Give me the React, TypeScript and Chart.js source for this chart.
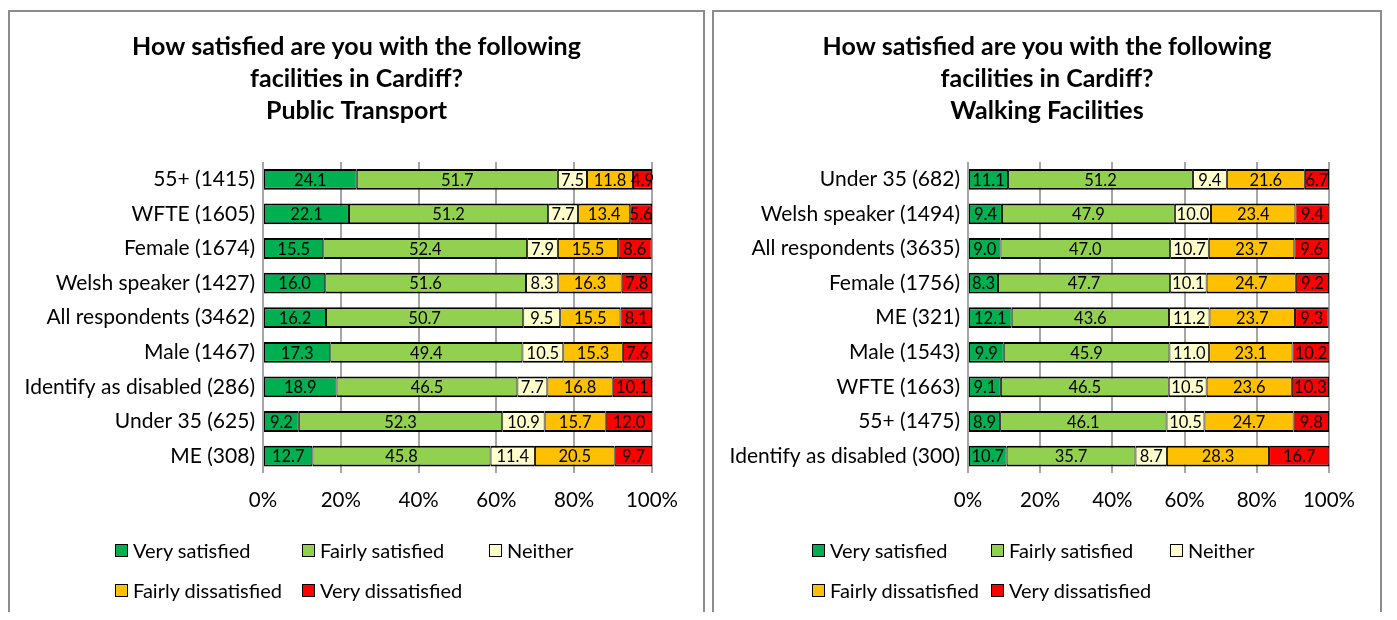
import React, { useEffect, useRef } from "react";
import { Chart, registerables } from "chart.js";

Chart.register(...registerables);

const FONT = "Lato, 'Noto Sans', sans-serif";

const seriesNames = ["Very satisfied", "Fairly satisfied", "Neither", "Fairly dissatisfied", "Very dissatisfied"];
const seriesColors = ["#00B050", "#92D050", "#FFFFCC", "#FFC000", "#FF0000"];
const xTickValues = [0, 20, 40, 60, 80, 100];

// Public Transport
const ptTitle = ["How satisfied are you with the following", "facilities in Cardiff?", "Public Transport"];
const ptCategories = ["55+ (1415)", "WFTE (1605)", "Female (1674)", "Welsh speaker (1427)", "All respondents (3462)", "Male (1467)", "Identify as disabled (286)", "Under 35 (625)", "ME (308)"];
const ptVerySatisfied = [24.1, 22.1, 15.5, 16.0, 16.2, 17.3, 18.9, 9.2, 12.7];
const ptFairlySatisfied = [51.7, 51.2, 52.4, 51.6, 50.7, 49.4, 46.5, 52.3, 45.8];
const ptNeither = [7.5, 7.7, 7.9, 8.3, 9.5, 10.5, 7.7, 10.9, 11.4];
const ptFairlyDissatisfied = [11.8, 13.4, 15.5, 16.3, 15.5, 15.3, 16.8, 15.7, 20.5];
const ptVeryDissatisfied = [4.9, 5.6, 8.6, 7.8, 8.1, 7.6, 10.1, 12.0, 9.7];

// Walking Facilities
const wfTitle = ["How satisfied are you with the following", "facilities in Cardiff?", "Walking Facilities"];
const wfCategories = ["Under 35 (682)", "Welsh speaker (1494)", "All respondents (3635)", "Female (1756)", "ME (321)", "Male (1543)", "WFTE (1663)", "55+ (1475)", "Identify as disabled (300)"];
const wfVerySatisfied = [11.1, 9.4, 9.0, 8.3, 12.1, 9.9, 9.1, 8.9, 10.7];
const wfFairlySatisfied = [51.2, 47.9, 47.0, 47.7, 43.6, 45.9, 46.5, 46.1, 35.7];
const wfNeither = [9.4, 10.0, 10.7, 10.1, 11.2, 11.0, 10.5, 10.5, 8.7];
const wfFairlyDissatisfied = [21.6, 23.4, 23.7, 24.7, 23.7, 23.1, 23.6, 24.7, 28.3];
const wfVeryDissatisfied = [6.7, 9.4, 9.6, 9.2, 9.3, 10.2, 10.3, 9.8, 16.7];

const valueLabels = {
  id: "valueLabels",
  afterDatasetsDraw(chart: any) {
    const { ctx, chartArea } = chart;
    ctx.save();
    ctx.beginPath();
    ctx.rect(chartArea.left, chartArea.top, chartArea.right - chartArea.left + 1, chartArea.bottom - chartArea.top);
    ctx.clip();
    ctx.font = `16.5px ${FONT}`;
    ctx.fillStyle = "#000";
    ctx.textAlign = "center";
    ctx.textBaseline = "middle";
    chart.data.datasets.forEach((ds: any, i: number) => {
      const meta = chart.getDatasetMeta(i);
      meta.data.forEach((el: any, j: number) => {
        const v = ds.data[j];
        const x = (el.x + el.base) / 2;
        ctx.fillText(Number(v).toFixed(1), x, el.y + 1);
      });
    });
    ctx.restore();
  },
};

type PanelProps = {
  marginLeft: number;
  width: number;
  yAxisWidth: number;
  padRight: number;
  legendLeft: number;
  legendCol: number;
  title: string[];
  categories: string[];
  series: number[][];
};

function Panel(p: PanelProps) {
  const ref = useRef<HTMLCanvasElement | null>(null);
  useEffect(() => {
    if (!ref.current) return;
    const chart = new Chart(ref.current, {
      type: "bar",
      data: {
        labels: p.categories,
        datasets: p.series.map((d, i) => ({
          label: seriesNames[i],
          data: d,
          backgroundColor: seriesColors[i],
          borderColor: "#000",
          borderWidth: { top: 2, bottom: 2, left: 1, right: 1 },
          borderSkipped: false,
          barPercentage: 0.6,
          categoryPercentage: 1,
        })),
      },
      options: {
        indexAxis: "y",
        responsive: false,
        animation: false,
        layout: { padding: { left: 0, right: 0, top: 0, bottom: 94 } },
        plugins: {
          legend: { display: false },
          tooltip: { enabled: false },
          title: {
            display: true,
            text: p.title,
            color: "#000",
            font: { family: FONT, size: 25, weight: "bold", lineHeight: 32 / 25 },
            padding: { top: 19, bottom: 35 },
          },
        },
        scales: {
          x: {
            stacked: true,
            min: 0,
            max: 100,
            afterBuildTicks: (scale: any) => {
              scale.ticks = xTickValues.map((v) => ({ value: v }));
            },
            ticks: {
              color: "#000",
              font: { family: FONT, size: 20.5 },
              padding: 15,
              callback: (v: any) => `${v}%`,
            },
            grid: { color: "#a6a6a6", lineWidth: 2, drawTicks: false },
            border: { display: false },
          },
          y: {
            stacked: true,
            afterFit: (scale: any) => {
              scale.width = p.yAxisWidth;
            },
            ticks: {
              color: "#000",
              font: { family: FONT, size: 21 },
              padding: 8,
            },
            grid: { display: false, drawTicks: false },
            border: { display: false },
          },
          ySpacer: {
            type: "category",
            position: "right",
            afterFit: (scale: any) => {
              scale.width = p.padRight;
            },
            ticks: { display: false },
            grid: { display: false, drawTicks: false },
            border: { display: false },
          },
        },
      },
      plugins: [valueLabels],
    });
    return () => chart.destroy();
  }, []);

  return (
    <div
      style={{
        position: "relative",
        flex: "0 0 auto",
        marginLeft: p.marginLeft,
        marginTop: 2,
        width: p.width,
        height: 640,
        border: "2px solid #8c8c8c",
        background: "#fff",
      }}
    >
      <canvas ref={ref} width={p.width} height={610} style={{ display: "block" }} />
      <div
        style={{
          position: "absolute",
          left: p.legendLeft,
          top: 518,
          display: "grid",
          gridTemplateColumns: `repeat(3, ${p.legendCol}px)`,
          fontFamily: FONT,
          fontSize: 20,
          lineHeight: "40px",
          color: "#000",
        }}
      >
        {seriesNames.map((n, i) => (
          <div key={n} style={{ display: "flex", alignItems: "center", whiteSpace: "nowrap" }}>
            <span
              style={{
                display: "inline-block",
                width: 11,
                height: 11,
                border: "1.5px solid #000",
                background: seriesColors[i],
                marginRight: 5,
              }}
            />
            <span>{n}</span>
          </div>
        ))}
      </div>
    </div>
  );
}

export default function App() {
  return (
    <div style={{ display: "flex", alignItems: "flex-start", height: 612, overflow: "hidden", marginBottom: -8 }}>
      <Panel
        marginLeft={0}
        width={693}
        yAxisWidth={253}
        padRight={51}
        legendLeft={105}
        legendCol={187}
        title={ptTitle}
        categories={ptCategories}
        series={[ptVerySatisfied, ptFairlySatisfied, ptNeither, ptFairlyDissatisfied, ptVeryDissatisfied]}
      />
      <Panel
        marginLeft={7}
        width={666}
        yAxisWidth={254}
        padRight={51}
        legendLeft={98}
        legendCol={179}
        title={wfTitle}
        categories={wfCategories}
        series={[wfVerySatisfied, wfFairlySatisfied, wfNeither, wfFairlyDissatisfied, wfVeryDissatisfied]}
      />
    </div>
  );
}
